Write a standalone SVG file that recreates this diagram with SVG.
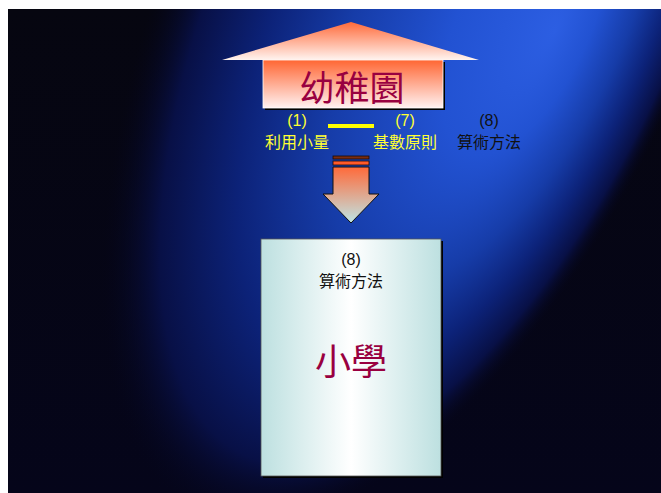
<svg xmlns="http://www.w3.org/2000/svg" width="661" height="493" viewBox="0 0 661 493">
  <defs>
    <linearGradient id="bgBase" x1="0" y1="0" x2="0" y2="1">
      <stop offset="0" stop-color="#060610"/>
      <stop offset="1" stop-color="#05051a"/>
    </linearGradient>
    <radialGradient id="beam" gradientUnits="userSpaceOnUse" cx="0" cy="0" r="1" fx="0" fy="-0.48" gradientTransform="translate(440,-20) rotate(114) scale(590,262)">
      <stop offset="0" stop-color="#2c5ee2"/>
      <stop offset="0.25" stop-color="#2252d2"/>
      <stop offset="0.5" stop-color="#163ca8"/>
      <stop offset="0.7" stop-color="#0c2278"/>
      <stop offset="0.87" stop-color="#081046"/>
      <stop offset="1" stop-color="#05051a" stop-opacity="0"/>
    </radialGradient>
    <linearGradient id="roofGrad" x1="0" y1="0" x2="0" y2="1">
      <stop offset="0" stop-color="#ff6a3a"/>
      <stop offset="1" stop-color="#fff4f0"/>
    </linearGradient>
    <linearGradient id="kgGrad" x1="0" y1="0" x2="0" y2="1">
      <stop offset="0" stop-color="#ff6633"/>
      <stop offset="1" stop-color="#fff2f2"/>
    </linearGradient>
    <linearGradient id="arrowGrad" x1="0" y1="0" x2="0" y2="1">
      <stop offset="0" stop-color="#ff6a3a"/>
      <stop offset="1" stop-color="#bfe6e6"/>
    </linearGradient>
    <linearGradient id="schoolGrad" x1="0" y1="0" x2="1" y2="0">
      <stop offset="0" stop-color="#bde0e0"/>
      <stop offset="0.5" stop-color="#ffffff"/>
      <stop offset="1" stop-color="#bde0e0"/>
    </linearGradient>
  </defs>
  <style>
    .lat { font-family: "Liberation Sans", "Noto Sans CJK TC", sans-serif; font-size: 16px; text-anchor: middle; }
    .cjk { font-family: "Noto Sans CJK TC", sans-serif; font-size: 16px; text-anchor: middle; }
    .yel { fill: #ffff33; }
    .blk { fill: #111111; }
    .title { font-family: "Noto Sans CJK TC", sans-serif; font-size: 35px; fill: #990040; text-anchor: middle; }
  </style>

  <rect x="0" y="0" width="661" height="493" fill="#ffffff"/>
  <rect x="8" y="9" width="653" height="484" fill="url(#bgBase)"/>
  <rect x="8" y="9" width="653" height="484" fill="url(#beam)"/>

  <g id="kindergarten">
    <rect x="265" y="62" width="180" height="48" fill="#000000"/>
    <rect x="263" y="60" width="180" height="48" fill="url(#kgGrad)" stroke="#ffffff" stroke-width="0.8"/>
    <polygon points="222,60 351,22 479,60" fill="url(#roofGrad)"/>
    <text class="title" x="352" y="101">幼稚園</text>
  </g>

  <g id="label1">
    <text class="lat yel" x="297" y="125.5">(1)</text>
    <text class="cjk yel" x="297" y="148">利用小量</text>
  </g>
  <g id="label7">
    <text class="lat yel" x="405" y="125.5">(7)</text>
    <text class="cjk yel" x="405" y="148">基數原則</text>
  </g>
  <g id="label8">
    <text class="lat blk" x="489" y="125.5">(8)</text>
    <text class="cjk blk" x="489" y="148">算術方法</text>
  </g>

  <g id="connectors">
    <line x1="328" y1="126" x2="374" y2="126" stroke="#ffff00" stroke-width="4"/>
    <rect x="333" y="156" width="36" height="3" fill="#7a2c10" stroke="#1a0a05" stroke-width="0.8"/>
    <rect x="333" y="161" width="36" height="4" fill="#ff5a2a" stroke="#1a0a05" stroke-width="0.8"/>
    <polygon points="333,167 369,167 369,194 379,194 351,223 323,194 333,194" fill="url(#arrowGrad)" stroke="#101010" stroke-width="1"/>
  </g>

  <g id="school">
    <rect x="263" y="241" width="180" height="237" fill="#000000"/>
    <rect x="261" y="239" width="180" height="237" fill="url(#schoolGrad)" stroke="#555555" stroke-width="0.8"/>
    <text class="lat blk" x="351" y="265">(8)</text>
    <text class="cjk blk" x="351" y="287">算術方法</text>
    <text class="title" x="351" y="375" style="font-size:36px">小學</text>
  </g>
</svg>
